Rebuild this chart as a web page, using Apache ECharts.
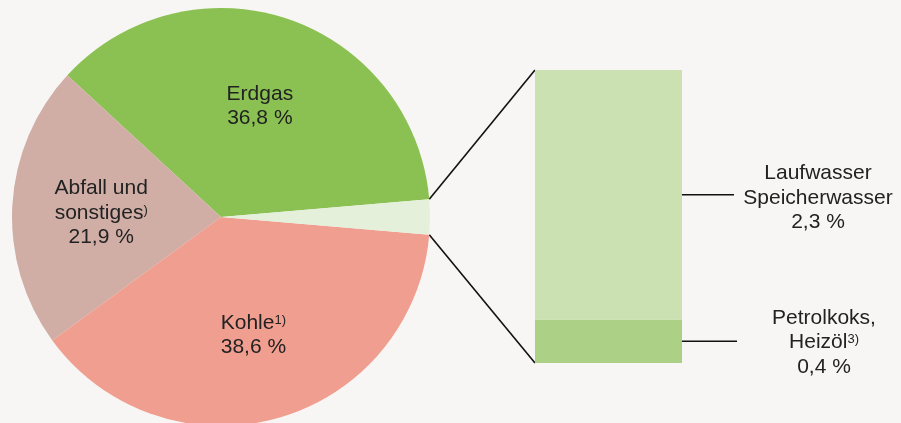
<!DOCTYPE html>
<html>
<head>
<meta charset="utf-8">
<script src="https://cdn.jsdelivr.net/npm/echarts@6/dist/echarts.min.js"></script>
<style>
    html,body{margin:0;padding:0;background:#f7f6f4;}
    #main{width:901px;height:423px;}
</style>
</head>
<body>
<div id="main"></div>
<script>
// Daten
var pie_names=['Erdgas','Abfall und sonstiges','Kohle','Wasser, Petrolkoks, Heizöl'];
var pie_labels=['Erdgas\n36,8 %','Abfall und\nsonstiges{sup|)}\n21,9 %','Kohle{sup|1)}\n38,6 %',''];
var pie_values=[36.8,21.9,38.6,2.7];
var pie_colors=['#8bc152','#d0aea6','#f09e8f','#e4f0da'];

var bar_names=['Petrolkoks, Heizöl','Laufwasser Speicherwasser'];
var bar_labels=['Petrolkoks,\nHeizöl{sup|3)}\n0,4 %','Laufwasser\nSpeicherwasser\n2,3 %'];
var bar_values=[0.4,2.3];
var bar_colors=['#acd086','#cce1b1'];

var pie_center=[221,217];
var pie_r=209;
var small_idx=3;

var font='"Liberation Sans", Arial, sans-serif';
var rich={sup:{fontSize:13,fontFamily:font,color:'#222',verticalAlign:'top',padding:[3,0,0,0]}};

var total=pie_values.reduce(function(a,b){return a+b;},0);
var half_angle=pie_values[small_idx]/total*360/2;

var chart=echarts.init(document.getElementById('main'));

var pie_data=pie_values.map(function(v,i){
    return {name:pie_names[i],value:v,itemStyle:{color:pie_colors[i]}};
});
var label_data=pie_values.map(function(v,i){
    return {name:pie_names[i],value:v,label:{formatter:pie_labels[i]}};
});

var bar_series=bar_values.map(function(v,i){
    return {
        name:bar_names[i],
        type:'bar',
        stack:'w',
        barWidth:'100%',
        data:[v],
        itemStyle:{color:bar_colors[i]},
        silent:true,
        label:{
            show:true,
            formatter:bar_labels[i],
            position:[i===0?289:283,'50%'],
            align:'center',
            verticalAlign:'middle',
            fontSize:21,
            lineHeight:24.5,
            padding:i===0?[2,0,0,0]:[6,0,0,0],
            fontFamily:font,
            color:'#222',
            rich:rich
        }
    };
});

var option={
    backgroundColor:'#f7f6f4',
    animation:false,
    grid:{left:535,top:70,width:147,height:293},
    xAxis:{type:'category',data:['w'],show:false},
    yAxis:{type:'value',min:0,max:total-pie_values[0]-pie_values[1]-pie_values[2],show:false},
    series:[{
        type:'pie',
        center:pie_center,
        radius:pie_r,
        clockwise:false,
        startAngle:half_angle,
        silent:true,
        label:{show:false},
        labelLine:{show:false},
        data:pie_data
    },{
        // nur Beschriftungen
        type:'pie',
        center:pie_center,
        radius:[0,234],
        clockwise:false,
        startAngle:half_angle,
        silent:true,
        itemStyle:{color:'transparent'},
        label:{
            show:true,
            position:'inner',
            fontSize:21,
            lineHeight:24.5,
            padding:[5,0,0,0],
            fontFamily:font,
            color:'#222',
            align:'center',
            rich:rich
        },
        labelLine:{show:false},
        data:label_data
    }].concat(bar_series)
};
chart.setOption(option);

// Verbindungslinien
function draw_lines() {
    var rad=half_angle*Math.PI/180;
    var p_top=[pie_center[0]+pie_r*Math.cos(rad),pie_center[1]-pie_r*Math.sin(rad)];
    var p_bot=[pie_center[0]+pie_r*Math.cos(rad),pie_center[1]+pie_r*Math.sin(rad)];
    var y_max=bar_values[0]+bar_values[1];
    var b_top=chart.convertToPixel({gridIndex:0},['w',y_max]);
    var b_bot=chart.convertToPixel({gridIndex:0},['w',0]);
    var b_mid=chart.convertToPixel({gridIndex:0},['w',bar_values[0]]);
    var left=535,right=682;
    var y1=(b_top[1]+b_mid[1])/2;
    var y0=(b_mid[1]+b_bot[1])/2;
    var st={stroke:'#111',lineWidth:1.6};
    chart.setOption({graphic:[
        {type:'line',shape:{x1:p_top[0],y1:p_top[1],x2:left,y2:b_top[1]},style:st},
        {type:'line',shape:{x1:p_bot[0],y1:p_bot[1],x2:left,y2:b_bot[1]},style:st},
        {type:'line',shape:{x1:right,y1:y1,x2:734,y2:y1},style:st},
        {type:'line',shape:{x1:right,y1:y0,x2:737,y2:y0},style:st}
    ]});
}
draw_lines();
</script>
</body>
</html>
